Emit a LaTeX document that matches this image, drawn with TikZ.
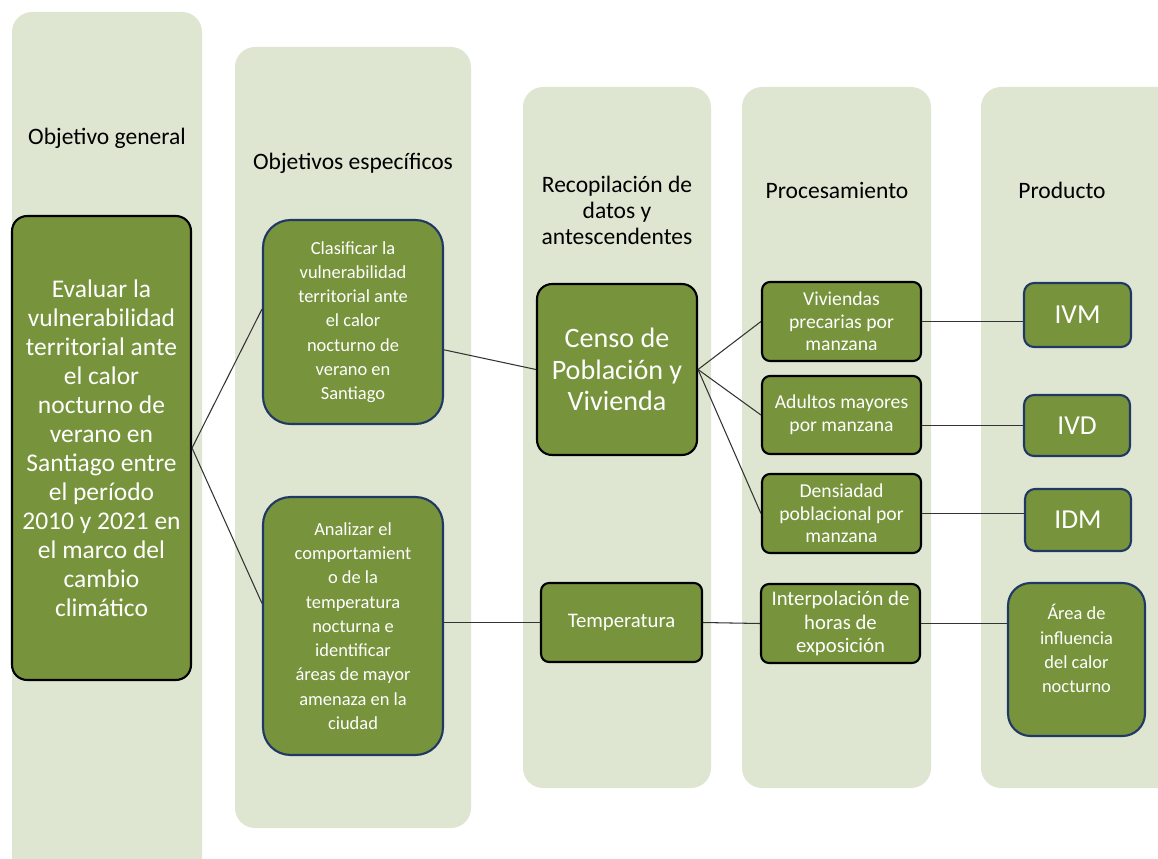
\documentclass[tikz,border=0pt]{standalone}
\usepackage{fontspec}
\setmainfont{Carlito}
\usetikzlibrary{calc}
\definecolor{colbg}{HTML}{DEE6D2}
\definecolor{olive}{HTML}{77933C}
\definecolor{navyline}{HTML}{203864}
\definecolor{linkgray}{HTML}{333333}
\def\fs#1#2{\fontsize{#1}{#2}\selectfont}
\tikzset{
	colbox/.style={fill=colbg, rounded corners=0.4cm},
	head/.style={align=center, text=black, font={\fs{13.4}{14.8}}},
	box/.style={draw=black, line width=1.2pt, fill=olive, text=white, align=center, inner sep=1pt},
	navybox/.style={box, draw=navyline},
	link/.style={draw=linkgray, line width=0.6pt},
}

\begin{document}
\begin{tikzpicture}[x=0.02cm, y=-0.02cm]
		%%%%% START %%%%%
		\clip (0, 0) rectangle (1158, 858);
		
		% columns
		\fill[colbox] (12, 12) rectangle (202, 900);
		\fill[colbox] (235, 47) rectangle (471, 828);
		\fill[colbox] (523, 87) rectangle (711, 788);
		\fill[colbox] (742, 87) rectangle (931, 788);
		\fill[colbox] (981, 87) rectangle (1200, 788);
		
		\node[head] (h1) at (107, 138) {Objetivo general};
		\node[head] (h2) at (353, 163) {Objetivos específicos};
		\node[head] (h3) at (617, 210) {Recopilación de\\datos y\\antescendentes};
		\node[head] (h4) at (837, 190) {Procesamiento};
		\node[head] (h5) at (1062, 190) {Producto};
		
		% objetivo general
		\node[box, minimum width=3.58cm, minimum height=9.28cm, rounded corners=0.3cm, font={\fs{14.5}{16.5}}] (og) at (101.5, 448)
			{Evaluar la\\vulnerabilidad\\territorial ante\\el calor\\nocturno de\\verano en\\Santiago entre\\el período\\2010 y 2021 en\\el marco del\\cambio\\climático};
		
		% objetivos especificos
		\node[navybox, minimum width=3.6cm, minimum height=4.08cm, rounded corners=0.55cm, font={\fs{10.5}{13.8}}] (s1) at (353, 322)
			{Clasificar la\\vulnerabilidad\\territorial ante\\el calor\\nocturno de\\verano en\\Santiago};
		\node[navybox, minimum width=3.6cm, minimum height=5.16cm, rounded corners=0.55cm, font={\fs{10.5}{13.8}}] (s2) at (353, 626)
			{Analizar el\\comportamient\\o de la\\temperatura\\nocturna e\\identificar\\áreas de mayor\\amenaza en la\\ciudad};
		
		% datos
		\node[box, minimum width=3.2cm, minimum height=3.42cm, rounded corners=0.3cm, font={\fs{16}{18}}] (censo) at (617, 369.5)
			{Censo de\\Población y\\Vivienda};
		\node[box, minimum width=3.22cm, minimum height=1.58cm, rounded corners=0.16cm, font={\fs{11.8}{13.4}}] (temp) at (621.5, 622.5)
			{Temperatura};
		
		% procesamiento
		\node[box, minimum width=3.18cm, minimum height=1.58cm, rounded corners=0.16cm, font={\fs{11.2}{12.9}}] (viv) at (841.5, 321.5)
			{Viviendas\\precarias por\\manzana};
		\node[box, minimum width=3.18cm, minimum height=1.56cm, rounded corners=0.16cm, font={\fs{11.2}{12.9}}] (adu) at (841.5, 415)
			{Adultos mayores\\por manzana};
		\node[box, minimum width=3.18cm, minimum height=1.58cm, rounded corners=0.16cm, font={\fs{11.2}{12.9}}] (den) at (841.5, 513.5)
			{Densiadad\\poblacional por\\manzana};
		\node[box, minimum width=3.18cm, minimum height=1.58cm, rounded corners=0.16cm, font={\fs{11.8}{13.4}}] (inter) at (840.5, 623.5)
			{Interpolación de\\horas de\\exposición};
		
		% producto
		\node[navybox, minimum width=2.14cm, minimum height=1.28cm, rounded corners=0.2cm, font={\fs{15.6}{17}}] (ivm) at (1077.5, 315) {IVM};
		\node[navybox, minimum width=2.12cm, minimum height=1.22cm, rounded corners=0.2cm, font={\fs{15.6}{17}}] (ivd) at (1077, 425.5) {IVD};
		\node[navybox, minimum width=2.12cm, minimum height=1.24cm, rounded corners=0.2cm, font={\fs{15.6}{17}}] (idm) at (1078, 520) {IDM};
		\node[navybox, minimum width=2.74cm, minimum height=3.06cm, rounded corners=0.45cm, font={\fs{10.5}{13.8}}] (area) at (1076.5, 659.5)
			{Área de\\influencia\\del calor\\nocturno\\[-1.4pt]};
		
		% connectors
		\draw[link] (og.east) -- (s1.172);
		\draw[link] (og.east) -- (s2.166);
		\draw[link] (s1.-17) -- (censo.west);
		\draw[link] (s2.east |- temp.west) -- (temp.west);
		\draw[link] (censo.east) -- (viv.west);
		\draw[link] (censo.east) -- (adu.west);
		\draw[link] (censo.east) -- (den.west);
		\draw[link] (viv.east) -- (viv.east -| ivm.west);
		\draw[link] (ivd.west -| adu.east) -- (ivd.west);
		\draw[link] (den.east) -- (den.east -| idm.west);
		\draw[link] (temp.east) -- (inter.west);
		\draw[link] (inter.east) -- (inter.east -| area.west);
		%%%%% END %%%%%
\end{tikzpicture}
\end{document}
